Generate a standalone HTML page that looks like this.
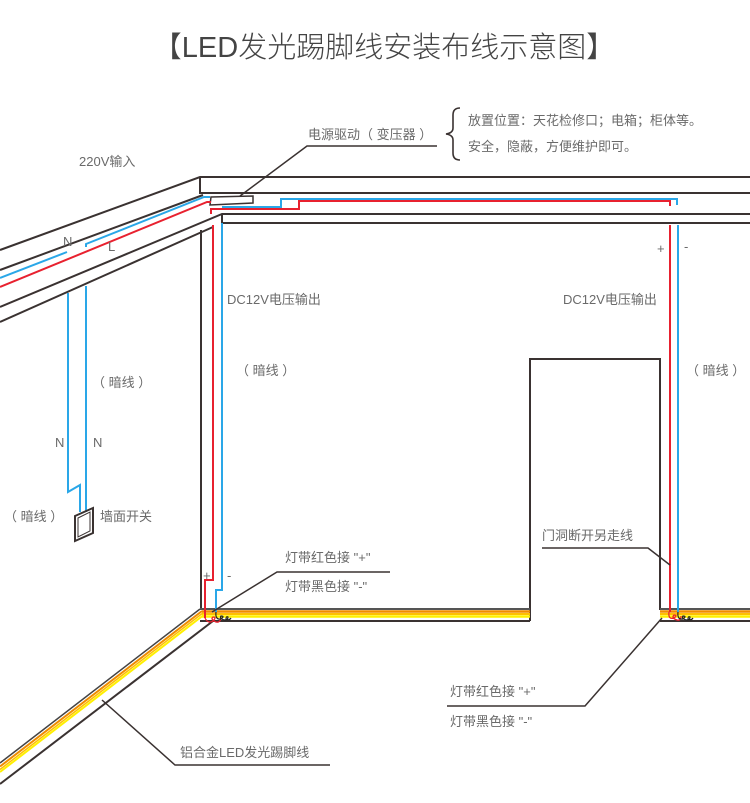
<!DOCTYPE html>
<html><head><meta charset="utf-8"><style>
html,body{margin:0;padding:0;background:#fff;}
svg{display:block;}
text{font-family:"Liberation Sans","Noto Sans CJK SC",sans-serif;fill:#6a6a6a;font-size:13px;}
</style></head><body>
<svg width="750" height="803" viewBox="0 0 750 803" xmlns="http://www.w3.org/2000/svg">
<text x="384" y="57" text-anchor="middle" style="font-size:29px;fill:#444;font-weight:300">【LED发光踢脚线安装布线示意图】</text>

<g stroke="#3a3231" stroke-width="2" fill="none">
<polyline points="0,250 200,177 750,177"/>
<polyline points="200,177 200,193 750,193"/>
<polyline points="0,270 203,195"/>
<polyline points="0,307 222,214 750,214"/>
<polyline points="222,214 222,223 750,223"/>
<polyline points="0,322 213,227"/>
<line x1="201" y1="230" x2="201" y2="610"/>
<polyline points="530,621 530,359 660,359 660,610"/>
<line x1="200" y1="621" x2="530" y2="621"/>
<line x1="660" y1="621" x2="750" y2="621"/>
<line x1="213" y1="621" x2="0" y2="784"/>
</g>

<g fill="none">
<line x1="200" y1="609" x2="530" y2="609" stroke="#555" stroke-width="2"/>
<line x1="202" y1="611.5" x2="530" y2="611.5" stroke="#f08c00" stroke-width="2.5"/>
<line x1="202" y1="614" x2="530" y2="614" stroke="#ffc000" stroke-width="2"/>
<line x1="202" y1="616.5" x2="530" y2="616.5" stroke="#fff000" stroke-width="2.5"/>
<line x1="660" y1="609" x2="750" y2="609" stroke="#555" stroke-width="2"/>
<line x1="660" y1="611.5" x2="750" y2="611.5" stroke="#f08c00" stroke-width="2.5"/>
<line x1="660" y1="614" x2="750" y2="614" stroke="#ffc000" stroke-width="2"/>
<line x1="660" y1="616.5" x2="750" y2="616.5" stroke="#fff000" stroke-width="2.5"/>
<line x1="200" y1="609" x2="0" y2="763" stroke="#444" stroke-width="1.5"/>
<line x1="202" y1="611" x2="0" y2="766.5" stroke="#f08c00" stroke-width="2"/>
<line x1="203.5" y1="612.5" x2="0" y2="769.5" stroke="#ffc000" stroke-width="1.5"/>
<line x1="205" y1="614" x2="0" y2="772" stroke="#fff000" stroke-width="2"/>
</g>

<polygon points="211,197 253,196 253,203 210,205" fill="#fff" stroke="#3a3231" stroke-width="1.5"/>

<g fill="none" stroke-width="2">
<polyline stroke="#2aa7e8" points="0,278 67,252"/>
<polyline stroke="#2aa7e8" points="86,247 86,244 204,197 210,197"/>
<polyline stroke="#2aa7e8" points="222,207 281,207 281,199 677,199 677,205"/>
<polyline stroke="#2aa7e8" points="222,223 222,590 216,590 216,612"/>
<polyline stroke="#2aa7e8" points="678,225 678,612"/>
<polyline stroke="#2aa7e8" points="68,293 68,492 80,485 80,512"/>
<polyline stroke="#2aa7e8" points="86,286 86,512"/>
<polyline stroke="#e8212f" points="0,287 207,202 211,202"/>
<polyline stroke="#e8212f" points="211,214 211,209 299,209 299,201 670,201 670,206"/>
<polyline stroke="#e8212f" points="213,225 213,580 205,580 205,618"/>
<polyline stroke="#e8212f" points="670,225 670,612"/>
<path stroke="#e8212f" stroke-width="1.3" d="M205,618 q3,6 8,3 q4,-4 0,-4 q-3,2 3,5 q4,1 5,-4"/>
<path stroke="#e8212f" stroke-width="1.3" d="M669,612 q-1,8 5,6 q4,-3 0,-3 q-3,3 3,5 q4,1 4,-4"/>
<path stroke="#222" stroke-width="1.2" d="M216,612 q-1,8 5,7 q4,-3 0,-3 q-2,3 4,4 q3,0 3,-3 q-2,-1 -2,2 q3,2 5,-1"/>
<path stroke="#222" stroke-width="1.2" d="M678,612 q-1,8 5,7 q4,-3 0,-3 q-2,3 4,4 q3,0 3,-3 q-2,-1 -2,2 q3,2 5,-1"/>
</g>

<polygon points="75,516 93,508 93,533 75,541" fill="none" stroke="#3a3231" stroke-width="2"/>
<polygon points="78,518 90,512 90,531 78,537" fill="none" stroke="#3a3231" stroke-width="1"/>

<g stroke="#3a3231" stroke-width="1.5" fill="none">
<polyline points="240,196 307,146 437,146"/>
<polyline points="212,612 277,572 390,572"/>
<polyline points="662,618 585,706 447,706"/>
<polyline points="102,700 175,765 330,765"/>
<polyline points="542,548 648,548 670,565"/>
<path d="M460,108 q-7,0 -7,7 v13 q0,5 -7,6 q7,1 7,6 v13 q0,7 7,7" stroke-width="1.6"/>
</g>

<text x="308" y="139">电源驱动（ 变压器 ）</text>
<text x="468" y="125">放置位置：天花检修口；电箱；柜体等。</text>
<text x="468" y="151">安全，隐蔽，方便维护即可。</text>
<text x="79" y="166">220V输入</text>
<text x="63" y="246">N</text>
<text x="108" y="251">L</text>
<text x="227" y="304">DC12V电压输出</text>
<text x="563" y="304">DC12V电压输出</text>
<text x="657" y="253">+</text>
<text x="684" y="251">-</text>
<text x="92" y="387">（ 暗线 ）</text>
<text x="236" y="375">（ 暗线 ）</text>
<text x="686" y="375">（ 暗线 ）</text>
<text x="55" y="447">N</text>
<text x="93" y="447">N</text>
<text x="4" y="521">（ 暗线 ）</text>
<text x="100" y="521">墙面开关</text>
<text x="542" y="540">门洞断开另走线</text>
<text x="285" y="562">灯带红色接 "+"</text>
<text x="285" y="591">灯带黑色接 "-"</text>
<text x="203" y="580">+</text>
<text x="227" y="580">-</text>
<text x="450" y="696">灯带红色接 "+"</text>
<text x="450" y="726">灯带黑色接 "-"</text>
<text x="180" y="757">铝合金LED发光踢脚线</text>
</svg>
</body></html>
